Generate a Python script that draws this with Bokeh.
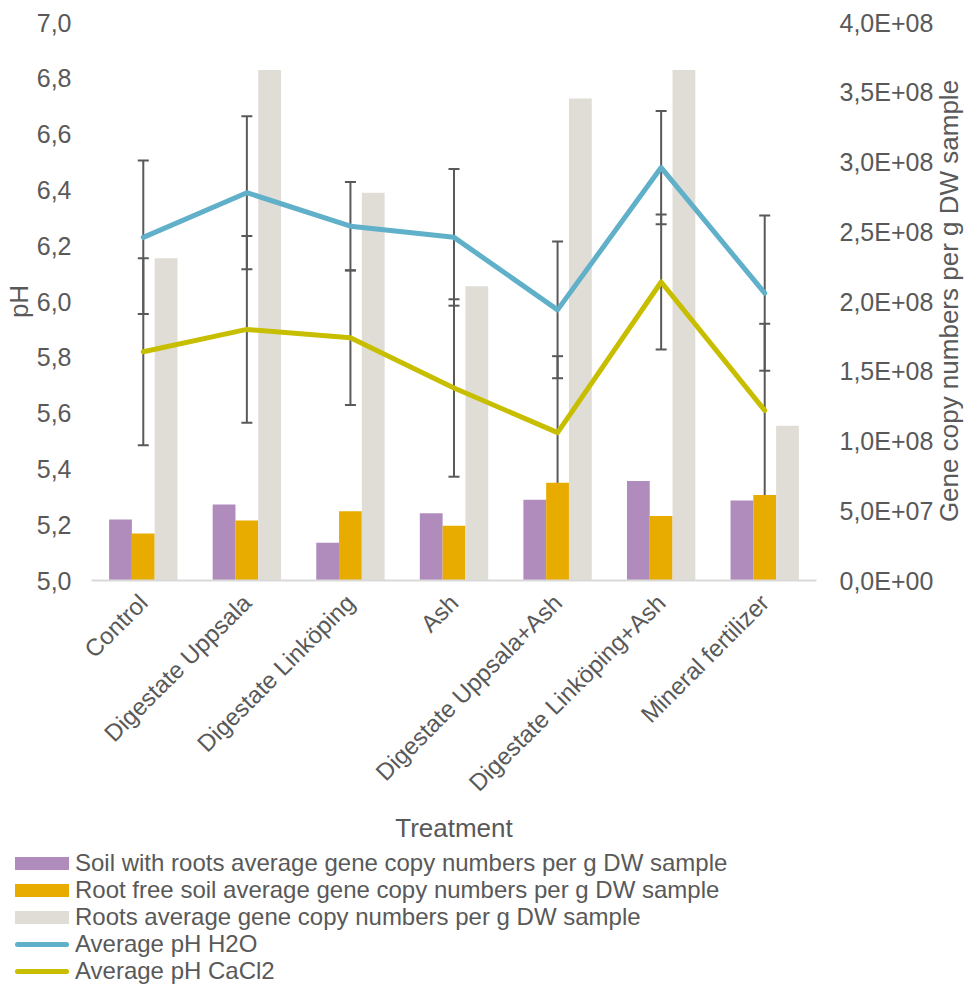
import numpy as np
import pandas as pd
from bokeh.plotting import figure
from bokeh.layouts import column, row
from bokeh.models import (ColumnDataSource, FactorRange, Range1d, LinearAxis, FixedTicker,
                          CustomJSTickFormatter, Whisker, TeeHead, Div)
from bokeh.transform import dodge
from bokeh.embed import file_html
from bokeh.resources import INLINE

categories = ["Control", "Digestate Uppsala", "Digestate Linköping", "Ash",
              "Digestate Uppsala+Ash", "Digestate Linköping+Ash", "Mineral fertilizer"]
soil_with_roots = [4.37e7, 5.45e7, 2.70e7, 4.82e7, 5.78e7, 7.13e7, 5.73e7]
root_free_soil = [3.37e7, 4.30e7, 4.97e7, 3.92e7, 7.00e7, 4.62e7, 6.13e7]
roots = [2.31e8, 3.66e8, 2.78e8, 2.11e8, 3.455e8, 3.66e8, 1.11e8]
ph_h2o = [6.23, 6.39, 6.27, 6.23, 5.97, 6.48, 6.03]
ph_h2o_err = [0.275, 0.274, 0.158, 0.245, 0.245, 0.203, 0.278]
ph_cacl2 = [5.82, 5.90, 5.87, 5.69, 5.53, 6.07, 5.61]
ph_cacl2_err = [0.335, 0.335, 0.241, 0.318, 0.274, 0.242, 0.310]
ph_ticks = [5.0, 5.2, 5.4, 5.6, 5.8, 6.0, 6.2, 6.4, 6.6, 6.8, 7.0]
gene_ticks = [0, 5e7, 1e8, 1.5e8, 2e8, 2.5e8, 3e8, 3.5e8, 4e8]
legend_labels = ["Soil with roots average gene copy numbers per g DW sample",
                 "Root free soil average gene copy numbers per g DW sample",
                 "Roots average gene copy numbers per g DW sample",
                 "Average pH H2O",
                 "Average pH CaCl2"]
x_title = "Treatment"
left_title = "pH"
right_title = "Gene copy numbers per g DW sample"

df = pd.DataFrame(dict(cat=categories, soil=soil_with_roots, free=root_free_soil, roots=roots,
                       h2o=ph_h2o, cacl2=ph_cacl2))
df["h2o_up"] = df["h2o"] + np.array(ph_h2o_err)
df["h2o_lo"] = df["h2o"] - np.array(ph_h2o_err)
df["ca_up"] = df["cacl2"] + np.array(ph_cacl2_err)
df["ca_lo"] = df["cacl2"] - np.array(ph_cacl2_err)
src = ColumnDataSource(df)

FONT = "Liberation Sans"
TXT = "#595959"
TICK_FS = "25px"
TITLE_FS = "26px"
XLAB_FS = "24px"
LEG_FS = "24px"
C_SOIL, C_FREE, C_ROOTS = "#B08CBC", "#E8AC00", "#E0DDD6"
C_H2O, C_CA = "#5FB0C8", "#C8BE00"

p = figure(x_range=FactorRange(factors=categories, range_padding=0),
           y_range=Range1d(5.0, 7.0),
           frame_width=725, frame_height=558,
           min_border_left=91, min_border_right=119, min_border_top=22, min_border_bottom=270,
           output_backend="svg", toolbar_location=None, tools="")
p.extra_y_ranges = {"gene": Range1d(0, 4e8)}
p.outline_line_color = None
p.xgrid.visible = False
p.ygrid.visible = False

bw = 0.22
p.vbar(x=dodge("cat", -bw, range=p.x_range), top="soil", width=bw, source=src,
       y_range_name="gene", fill_color=C_SOIL, line_color=None)
p.vbar(x=dodge("cat", 0, range=p.x_range), top="free", width=bw, source=src,
       y_range_name="gene", fill_color=C_FREE, line_color=None)
p.vbar(x=dodge("cat", bw, range=p.x_range), top="roots", width=bw, source=src,
       y_range_name="gene", fill_color=C_ROOTS, line_color=None)

for up, lo in (("h2o_up", "h2o_lo"), ("ca_up", "ca_lo")):
    w = Whisker(base="cat", upper=up, lower=lo, source=src, dimension="height",
                line_color=TXT, line_width=2,
                upper_head=TeeHead(size=11, line_color=TXT, line_width=2),
                lower_head=TeeHead(size=11, line_color=TXT, line_width=2))
    p.add_layout(w)

p.line(x="cat", y="h2o", source=src, line_color=C_H2O, line_width=5,
       line_join="round", line_cap="round")
p.line(x="cat", y="cacl2", source=src, line_color=C_CA, line_width=5,
       line_join="round", line_cap="round")

# left axis
ya = p.yaxis[0]
ya.ticker = FixedTicker(ticks=ph_ticks)
ya.formatter = CustomJSTickFormatter(code="return tick.toFixed(1).replace('.', ',');")
ya.axis_line_color = None
ya.major_tick_line_color = None
ya.minor_tick_line_color = None
ya.major_label_text_font = FONT
ya.major_label_text_font_size = TICK_FS
ya.major_label_text_color = TXT
ya.major_label_standoff = 14
ya.axis_label = left_title
ya.axis_label_text_font = FONT
ya.axis_label_text_font_size = TITLE_FS
ya.axis_label_text_color = TXT
ya.axis_label_text_font_style = "normal"
ya.axis_label_standoff = 0

# right axis (its title is drawn beside the plot, reading upwards)
ra = LinearAxis(y_range_name="gene")
ra.ticker = FixedTicker(ticks=gene_ticks)
ra.formatter = CustomJSTickFormatter(code="""
if (tick === 0) { return '0,0E+00'; }
const e = Math.floor(Math.log10(Math.abs(tick)) + 1e-9);
const m = tick / Math.pow(10, e);
return m.toFixed(1).replace('.', ',') + 'E+' + String(e).padStart(2, '0');
""")
ra.axis_line_color = None
ra.major_tick_line_color = None
ra.minor_tick_line_color = None
ra.major_label_text_font = FONT
ra.major_label_text_font_size = TICK_FS
ra.major_label_text_color = TXT
ra.major_label_standoff = 17
p.add_layout(ra, "right")

# bottom axis
xa = p.xaxis[0]
xa.axis_line_color = "#D9D9D9"
xa.axis_line_width = 2
xa.major_tick_line_color = None
xa.minor_tick_line_color = None
xa.major_label_orientation = np.pi / 4
xa.major_label_text_font = FONT
xa.major_label_text_font_size = XLAB_FS
xa.major_label_text_color = TXT
xa.major_label_standoff = 12
xa.axis_label = x_title
xa.axis_label_text_font = FONT
xa.axis_label_text_font_size = TITLE_FS
xa.axis_label_text_color = TXT
xa.axis_label_text_font_style = "normal"
xa.axis_label_standoff = 4

# right-hand axis title, reading bottom to top
title_div = Div(
    text=(f'<div style="position:relative;width:30px;height:850px;">'
          f'<div style="position:absolute;left:13px;top:301px;white-space:nowrap;'
          f'transform:translate(-50%,-50%) rotate(-90deg);font-family:\'{FONT}\';'
          f'font-size:{TITLE_FS};color:{TXT};line-height:1;">{right_title}</div></div>'),
    width=30, height=850, margin=0)

# legend strip
swatches = [("box", C_SOIL), ("box", C_FREE), ("box", C_ROOTS), ("line", C_H2O), ("line", C_CA)]
rows_html = []
for lab, (kind, col) in zip(legend_labels, swatches):
    if kind == "box":
        sw = f'<span style="display:inline-block;width:54px;height:13px;background:{col};margin-right:6px;"></span>'
    else:
        sw = f'<span style="display:inline-block;width:54px;height:5px;border-radius:3px;background:{col};margin-right:6px;"></span>'
    rows_html.append(f'<div style="display:flex;align-items:center;height:27px;white-space:nowrap;">{sw}'
                     f'<span>{lab}</span></div>')
legend_div = Div(
    text=(f'<div style="padding-left:15px;font-family:\'{FONT}\';font-size:{LEG_FS};color:{TXT};">'
          + "".join(rows_html) + '</div>'),
    width=965, height=140, margin=0)

layout = column(row(p, title_div, spacing=0), legend_div, spacing=0)
open("out.html", "w").write(file_html(layout, INLINE))
